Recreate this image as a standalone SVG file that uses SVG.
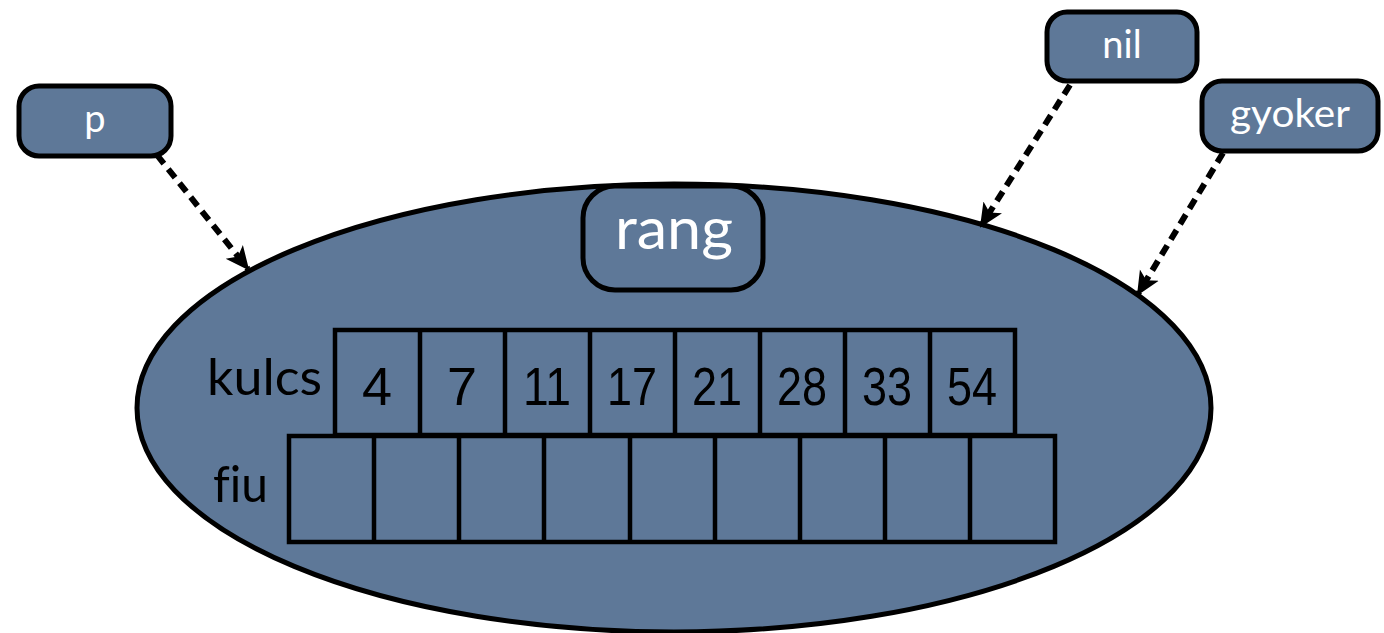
<svg xmlns="http://www.w3.org/2000/svg" width="1384" height="633" viewBox="0 0 1384 633">
<defs>
<marker id="ah" viewBox="0 0 24 24" refX="22" refY="12" markerWidth="24" markerHeight="24" markerUnits="userSpaceOnUse" orient="auto">
<path d="M0,1 L24,12 L0,23 L6,12 z" fill="#000"/>
</marker>
<style>
.shape{fill:#5e7898;stroke:#000;stroke-width:5}
.cell{fill:none;stroke:#000;stroke-width:4.5}
.lbl{font-family:Lato,"Open Sans",sans-serif;fill:#fff;font-variant-ligatures:none}
.blk{font-family:Lato,"Open Sans",sans-serif;fill:#000;font-variant-ligatures:none}
.num{font-family:"Liberation Sans",Arial,sans-serif;font-size:54px;fill:#000;text-anchor:middle}
.conn{fill:none;stroke:#000;stroke-width:6;stroke-dasharray:11 7}
</style>
</defs>
<rect width="1384" height="633" fill="#fff"/>
<g id="node-record">
<ellipse class="shape" cx="674" cy="408" rx="537" ry="224"/>
<g id="kulcs-row">
<rect class="cell" x="335" y="330" width="680" height="105"/>
<path class="cell" d="M420,330V435M505,330V435M590,330V435M675,330V435M760,330V435M845,330V435M930,330V435"/>
<text class="num" x="377" y="405">4</text>
<text class="num" x="462" y="405">7</text>
<text class="num" x="547" y="405" textLength="48" lengthAdjust="spacingAndGlyphs">11</text>
<text class="num" x="632" y="405" textLength="50" lengthAdjust="spacingAndGlyphs">17</text>
<text class="num" x="717" y="405" textLength="50" lengthAdjust="spacingAndGlyphs">21</text>
<text class="num" x="802" y="405" textLength="50" lengthAdjust="spacingAndGlyphs">28</text>
<text class="num" x="887" y="405" textLength="50" lengthAdjust="spacingAndGlyphs">33</text>
<text class="num" x="972" y="405" textLength="50" lengthAdjust="spacingAndGlyphs">54</text>
<text class="blk" x="207" y="395" font-size="50" textLength="115" lengthAdjust="spacingAndGlyphs">kulcs</text>
</g>
<g id="fiu-row">
<rect class="cell" x="289" y="436" width="766" height="106"/>
<path class="cell" d="M374,436V542M459,436V542M544,436V542M630,436V542M715,436V542M800,436V542M885,436V542M970,436V542"/>
<text class="blk" x="213" y="502" font-size="50" textLength="55" lengthAdjust="spacingAndGlyphs">fiu</text>
</g>
</g>
<g id="node-rang">
<rect class="shape" x="583" y="186" width="180" height="104" rx="32"/>
<text class="lbl" x="674" y="249" font-size="58" text-anchor="middle" textLength="118" lengthAdjust="spacingAndGlyphs">rang</text>
</g>
<g id="node-p">
<rect class="shape" x="19" y="86" width="152" height="70" rx="20"/>
<text class="lbl" x="95" y="132" font-size="38" text-anchor="middle">p</text>
</g>
<g id="node-nil">
<rect class="shape" x="1047" y="12" width="150" height="69" rx="20"/>
<text class="lbl" x="1122" y="58" font-size="38" text-anchor="middle">nil</text>
</g>
<g id="node-gyoker">
<rect class="shape" x="1202" y="81" width="176" height="70" rx="20"/>
<text class="lbl" x="1290" y="127" font-size="38" text-anchor="middle" textLength="120" lengthAdjust="spacingAndGlyphs">gyoker</text>
</g>
<g id="connectors">
<path class="conn" d="M157,155 L248,269" marker-end="url(#ah)"/>
<path class="conn" d="M1070,85 L981,226" marker-end="url(#ah)"/>
<path class="conn" d="M1223,153 L1138,294" marker-end="url(#ah)"/>
</g>
</svg>
